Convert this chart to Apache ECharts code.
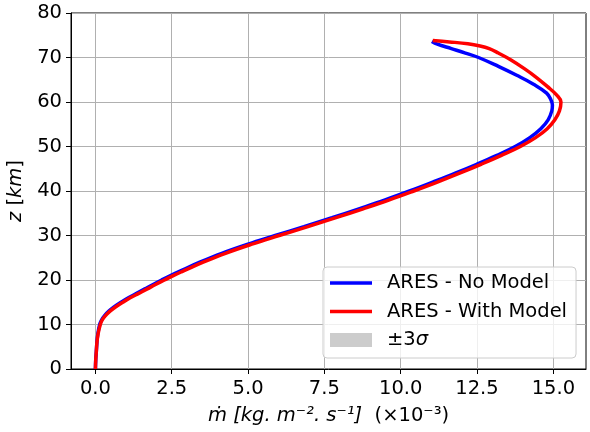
<!DOCTYPE html>
<html>
<head>
<meta charset="utf-8">
<script src="https://cdn.jsdelivr.net/npm/echarts@6/dist/echarts.min.js"></script>
<style>
html,body{margin:0;padding:0;background:#fff;}
#chart{width:590px;height:432px;}
</style>
</head>
<body>
<div id="chart"></div>
<script>
// Altitude levels (km) and mass flux (x1e-3 kg m^-2 s^-1)
const zNoModel = [0,2,4,6,8,10,11,12,13,14,15,16,17,18,19,20,21,22,24,26,28,30,32,34,36,38,40,42,44,46,48,50,52,54,56,58,59.3,60.5,62,64,66,68,70,71,72,73,73.6];
const mNoModel = [0.0,0.01,0.03,0.05,0.08,0.14,0.2,0.3,0.44,0.62,0.84,1.08,1.35,1.62,1.89,2.17,2.46,2.77,3.42,4.14,4.97,5.89,6.83,7.75,8.63,9.49,10.29,11.05,11.79,12.49,13.15,13.75,14.23,14.59,14.83,14.95,14.97,14.92,14.78,14.35,13.8,13.2,12.55,12.12,11.66,11.2,11.02];
const zWithModel = [0,2,4,6,8,10,11,12,13,14,15,16,17,18,19,20,21,22,24,26,28,30,32,34,36,38,40,42,44,46,48,50,52,54,56,58,60,61.5,63.5,65.5,67.5,69.5,71,72,72.6,73.1,73.5,73.8];
const mWithModel = [0.0,0.01,0.03,0.05,0.09,0.16,0.22,0.33,0.48,0.67,0.9,1.14,1.42,1.7,1.97,2.26,2.55,2.87,3.53,4.26,5.1,6.02,6.96,7.88,8.77,9.63,10.43,11.2,11.93,12.63,13.3,13.92,14.42,14.8,15.05,15.2,15.25,15.12,14.8,14.45,14.05,13.6,13.2,12.9,12.6,12.2,11.6,11.05];
const xTicks = [0,2.5,5,7.5,10,12.5,15];
const seriesNames = ['ARES - No Model','ARES - With Model','±3σ'];

const FONT = 'DejaVu Sans';
const FS = 19.5;
const LINE_ICON = 'path://M0,0 M42,14 M0,5.25 H42 V8.75 H0 Z';
const chart = echarts.init(document.getElementById('chart'), null, {renderer:'canvas'});
const pair = (xs, zs) => xs.map((v,i) => [v, zs[i]]);

chart.setOption({
  animation: false,
  backgroundColor: '#ffffff',
  textStyle: {fontFamily: FONT},
  grid: {left: 71, top: 13, right: 4, bottom: 63, outerBoundsMode: 'none', containLabel: false,
    show: true, borderColor: '#000', borderWidth: 1, backgroundColor: 'transparent'},
  xAxis: {
    type: 'value', min: -0.8, max: 16.07,
    axisLine: {show: true, onZero: false, lineStyle: {color: '#000', width: 1}},
    axisTick: {show: true, length: 5, lineStyle: {color: '#000'}, customValues: xTicks},
    axisLabel: {customValues: xTicks, fontSize: FS, color: '#000', fontFamily: FONT, margin: 10, formatter: v => v.toFixed(1)},
    splitLine: {show: true, lineStyle: {color: '#b0b0b0', width: 1}},
    name: '{i|ṁ [kg. m⁻². s⁻¹]}  (×10⁻³)',
    nameLocation: 'middle', nameGap: 37,
    nameTextStyle: {fontSize: FS, color: '#000', fontFamily: FONT, rich: {i: {fontStyle: 'italic', fontSize: FS, fontFamily: FONT, color: '#000'}}}
  },
  yAxis: {
    type: 'value', min: 0, max: 80, interval: 10,
    axisLine: {show: true, onZero: false, lineStyle: {color: '#000', width: 1}},
    axisTick: {show: true, length: 5, lineStyle: {color: '#000'}},
    axisLabel: {fontSize: FS, color: '#000', fontFamily: FONT, margin: 9},
    splitLine: {show: true, lineStyle: {color: '#b0b0b0', width: 1}},
    name: '{i|z} [{i|km}]',
    nameLocation: 'middle', nameGap: 38,
    nameTextStyle: {fontSize: FS, color: '#000', fontFamily: FONT, rich: {i: {fontStyle: 'italic', fontSize: FS, fontFamily: FONT, color: '#000'}}}
  },
  legend: {
    left: 323, top: 267, orient: 'vertical',
    padding: [6, 9, 8, 7],
    itemWidth: 42, itemHeight: 14, itemGap: 8.5,
    backgroundColor: 'rgba(255,255,255,0.8)', borderColor: '#cccccc', borderWidth: 1, borderRadius: 4,
    textStyle: {fontSize: FS, color: '#000', fontFamily: FONT, lineHeight: 20, padding: [0,0,0,10],
      rich: {i: {fontStyle: 'italic', fontSize: FS, fontFamily: FONT, color: '#000', lineHeight: 20}}},
    formatter: n => n === '±3σ' ? '±3{i|σ}' : n,
    data: [
      {name: seriesNames[0], icon: LINE_ICON, itemStyle: {color: '#0000ff', borderWidth: 0}},
      {name: seriesNames[1], icon: LINE_ICON, itemStyle: {color: '#ff0000', borderWidth: 0}},
      {name: seriesNames[2], icon: 'rect', itemStyle: {color: '#cccccc', borderWidth: 0}}
    ]
  },
  series: [
    {name: seriesNames[0], type: 'line', data: pair(mNoModel, zNoModel), showSymbol: false, symbol: 'none', smooth: 0.4,
      lineStyle: {color: '#0000ff', width: 3.5}, itemStyle: {color: '#0000ff'}, z: 3},
    {name: seriesNames[1], type: 'line', data: pair(mWithModel, zWithModel), showSymbol: false, symbol: 'none', smooth: 0.4,
      lineStyle: {color: '#ff0000', width: 3.5}, itemStyle: {color: '#ff0000'}, z: 4},
    {name: seriesNames[2], type: 'line', data: [], showSymbol: false, symbol: 'none',
      lineStyle: {color: '#cccccc', width: 0}, itemStyle: {color: '#cccccc'}}
  ]
});
</script>
</body>
</html>
